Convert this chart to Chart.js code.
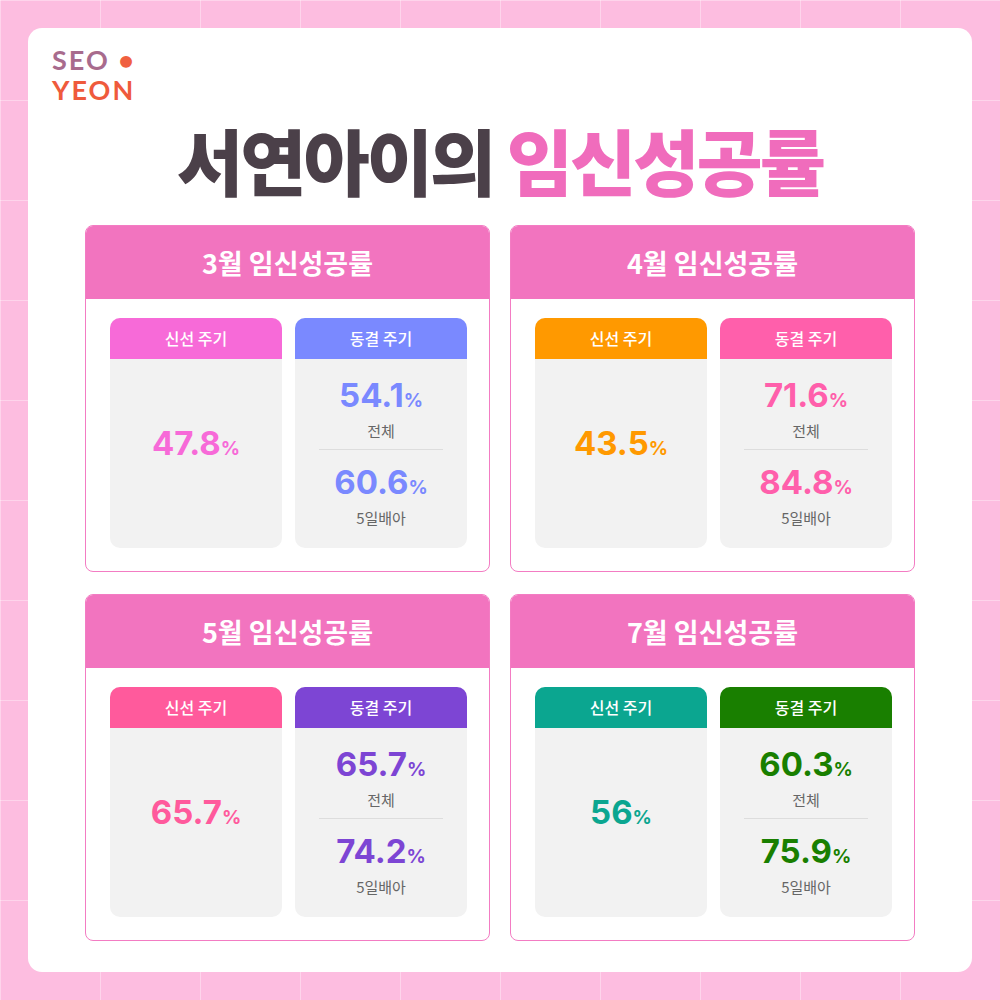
<!DOCTYPE html>
<html><head><meta charset="utf-8">
<script src="https://cdn.jsdelivr.net/npm/chart.js@4"></script>
<style>
body{margin:0;width:1000px;height:1000px;font-family:"Noto Sans CJK KR","Noto Sans",sans-serif;
background-color:#fdbde0;background-image:linear-gradient(90deg,rgba(255,255,255,.35) 1px,transparent 1px),linear-gradient(rgba(255,255,255,.35) 1px,transparent 1px);background-size:100px 100px;position:relative;overflow:hidden}
#card{position:absolute;left:28px;top:28px;width:944px;height:944px;background:#fff;border-radius:14px}
.logo{position:absolute;left:52px;font-family:Lato,sans-serif;font-weight:700;font-size:27px;line-height:27px;letter-spacing:2px}
#title{position:absolute;left:0;width:1000px;top:106px;text-align:center;font-size:72px;font-weight:900;color:#4b4049;letter-spacing:-3px}
.panel{position:absolute;width:405px;height:347px;border:1px solid #f37cc3;border-radius:8px;box-sizing:border-box;overflow:hidden;background:#fff}
.ph{height:73px;background:#f274bf;color:#fff;font-size:27px;font-weight:700;text-align:center;line-height:73px}
.c{position:absolute;top:92px;width:172px;height:230px;background:#f2f2f2;border-radius:10px;overflow:hidden;text-align:center}
.ch{height:41px;line-height:41px;color:#fff;font-size:16px;font-weight:500}
.v{font-family:Inter,sans-serif;font-weight:700;font-size:33px;line-height:40px}
.v small{font-size:19px}
.lbl{font-size:15px;color:#666;line-height:20px}
</style></head><body>
<div id="card"></div>
<div class="logo" style="top:46px;color:#a86b8d">SEO <span style="color:#f06040">•</span></div>
<div class="logo" style="top:76px;color:#ef5a3c">YEON</div>
<div id="title">서연아이의 <span style="color:#f06cbc">임신성공률</span></div>
<canvas id="cv" style="display:none"></canvas>
<script>
const months=["3월","4월","5월","7월"];
const freshRates=[47.8,43.5,65.7,56];
const frozenAll=[54.1,71.6,65.7,60.3];
const frozenDay5=[60.6,84.8,74.2,75.9];
const freshColors=["#f76ad8","#ff9900","#ff5a9c","#0ba690"];
const frozenColors=["#7a89ff","#ff5fab","#7d45d4","#197f00"];
const pos=[[85,225],[510,225],[85,594],[510,594]];
const fmt=v=>`${v}<small>%</small>`;
months.forEach((m,i)=>{
 const p=document.createElement('div');p.className='panel';p.style.left=pos[i][0]+'px';p.style.top=pos[i][1]+'px';
 p.innerHTML=`<div class="ph">${m} 임신성공률</div>
 <div class="c" style="left:24px"><div class="ch" style="background:${freshColors[i]}">신선 주기</div>
  <div class="v" style="color:${freshColors[i]};margin-top:64px">${fmt(freshRates[i])}</div></div>
 <div class="c" style="left:209px"><div class="ch" style="background:${frozenColors[i]}">동결 주기</div>
  <div class="v" style="color:${frozenColors[i]};margin-top:16px">${fmt(frozenAll[i])}</div><div class="lbl">전체</div>
  <div style="height:1px;background:#ddd;margin:8px 24px 12px"></div>
  <div class="v" style="color:${frozenColors[i]}">${fmt(frozenDay5[i])}</div><div class="lbl">5일배아</div></div>`;
 document.body.appendChild(p);
});
new Chart(document.getElementById('cv'),{type:'bar',data:{labels:months,datasets:[{data:freshRates},{data:frozenAll},{data:frozenDay5}]},options:{animation:false}});
</script>
</body></html>
